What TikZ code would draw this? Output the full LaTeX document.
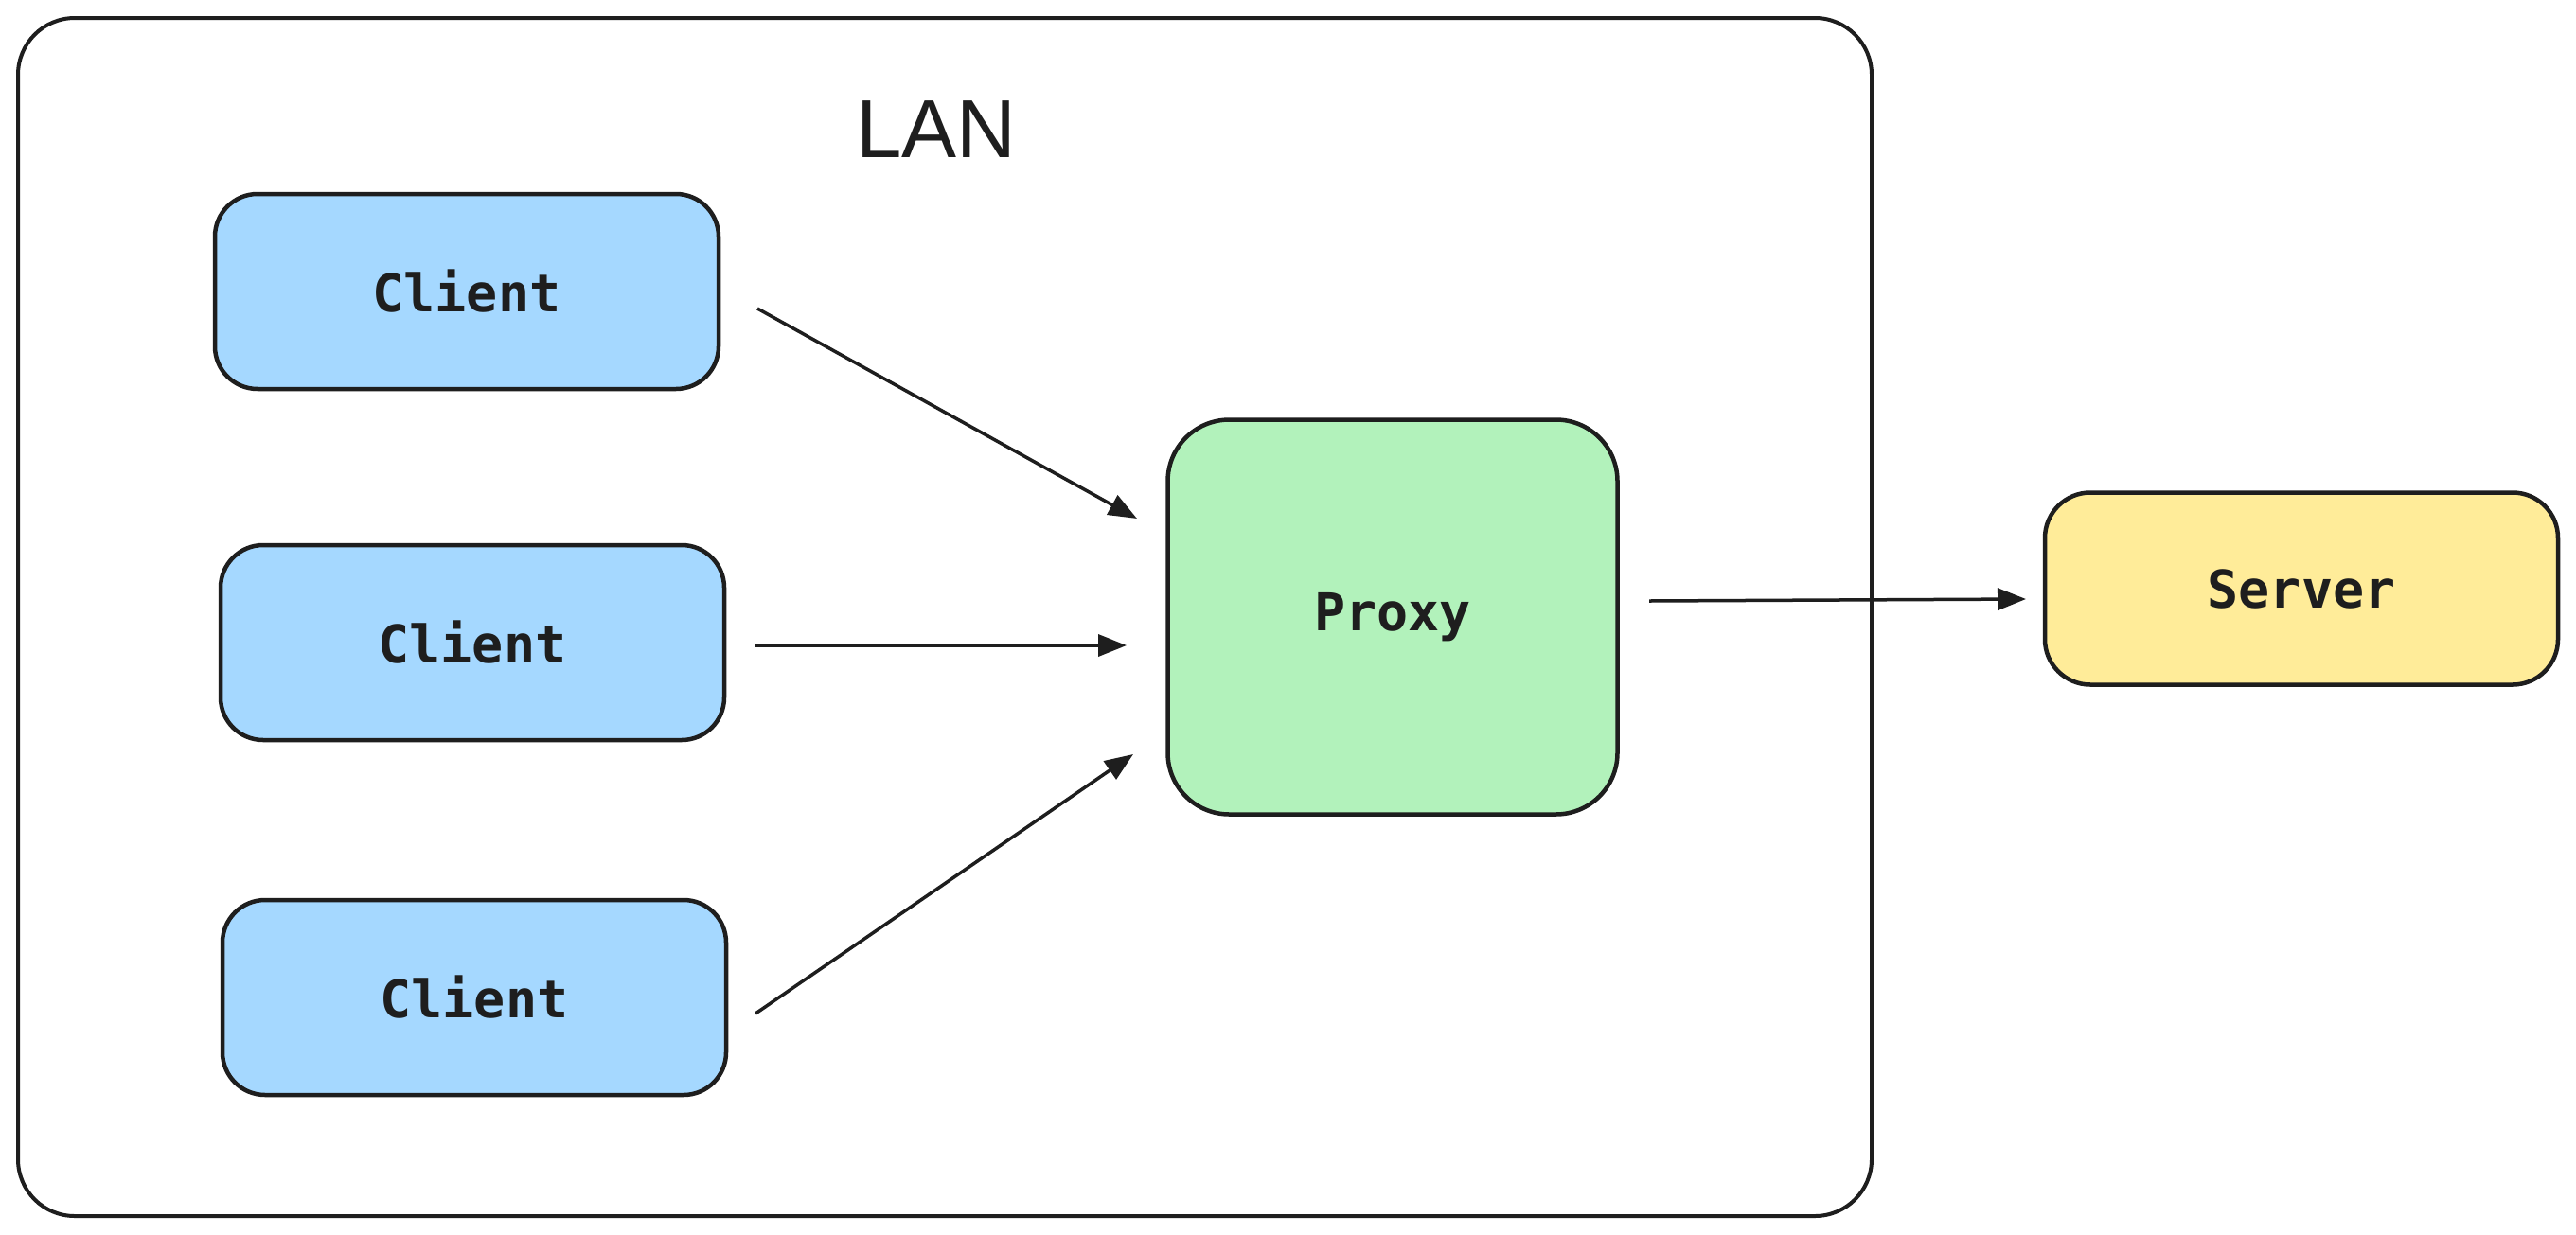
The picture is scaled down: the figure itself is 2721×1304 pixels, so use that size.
\documentclass[tikz,border=0pt]{standalone}
\usepackage{fontspec}
\setmainfont{Liberation Sans}
\newfontfamily\codefont{DejaVu Sans Mono}
\usetikzlibrary{arrows.meta}
\definecolor{ink}{HTML}{1E1E1E}
\definecolor{cblue}{HTML}{A5D8FF}
\definecolor{cgreen}{HTML}{B2F2BB}
\definecolor{cyellow}{HTML}{FFEC99}
\tikzset{
  box/.style={draw=ink, line width=4.5pt, inner sep=0pt, font=\codefont\bfseries\fontsize{55}{60}\selectfont, text=ink},
  clientbox/.style={box, fill=cblue, minimum width=532pt, minimum height=206pt, rounded corners=45pt},
  link/.style={draw=ink, line width=3.5pt, -{Triangle[length=30pt,width=23pt]}},
}
\begin{document}
\begin{tikzpicture}[x=1pt,y=-1pt]
\useasboundingbox (0,0) rectangle (2721,1304);
\fill[white] (0,0) rectangle (2721,1304);
\draw[ink, line width=4pt, rounded corners=60pt] (19,19) rectangle (1977,1285);
\node[font=\fontsize{87}{90}\selectfont, text=ink] (lan) at (989,137) {LAN};
\node[clientbox] (c1) at (493,308) {Client};
\node[clientbox] (c2) at (499,679) {Client};
\node[clientbox] (c3) at (501,1054) {Client};
\node[box, fill=cgreen, minimum width=475pt, minimum height=417pt, rounded corners=65pt] (proxy) at (1471,652) {Proxy};
\node[box, fill=cyellow, minimum width=542pt, minimum height=203pt, rounded corners=48pt] (server) at (2431,622) {Server};
\coordinate (a1s) at (800,326);
\coordinate (a1e) at (1201,548);
\coordinate (a2s) at (798,682);
\coordinate (a2e) at (1190,682);
\coordinate (a3s) at (798,1071);
\coordinate (a3e) at (1197,797);
\coordinate (a4s) at (1742,635);
\coordinate (a4e) at (2140,633);
\draw[link] (a1s) -- (a1e);
\draw[link] (a2s) -- (a2e);
\draw[link] (a3s) -- (a3e);
\draw[link] (a4s) -- (a4e);
\end{tikzpicture}
\end{document}
